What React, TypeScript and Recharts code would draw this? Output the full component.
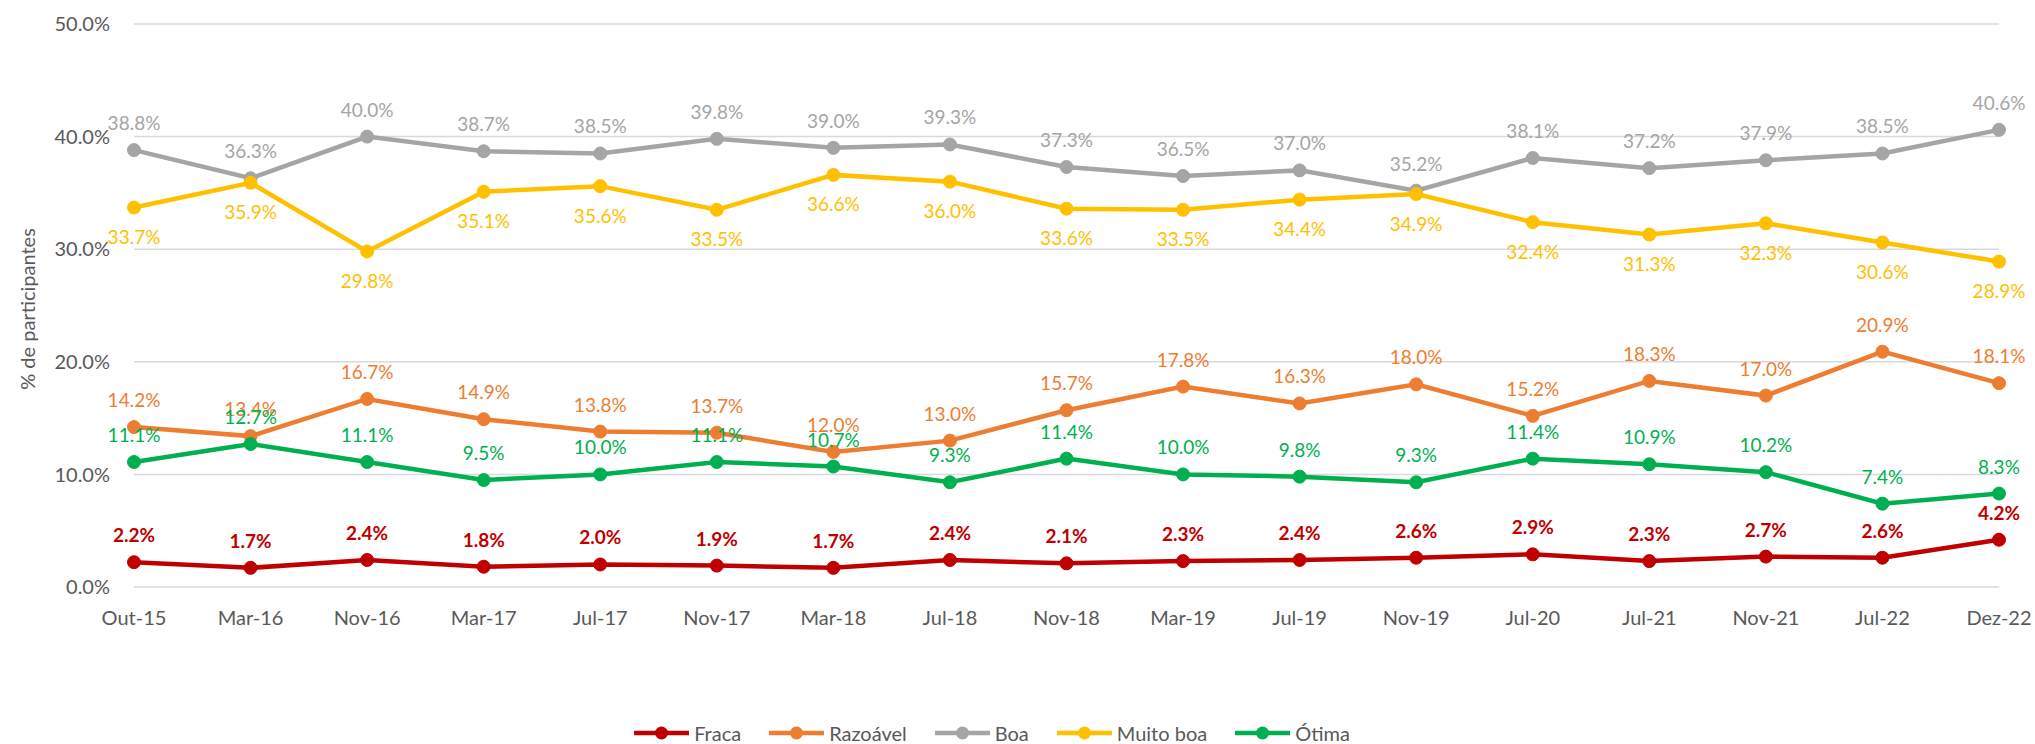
import React from 'react';
import { LineChart, Line, CartesianGrid, XAxis, YAxis, Legend, LabelList, Label } from 'recharts';

const periods = ['Out-15', 'Mar-16', 'Nov-16', 'Mar-17', 'Jul-17', 'Nov-17', 'Mar-18', 'Jul-18', 'Nov-18', 'Mar-19', 'Jul-19', 'Nov-19', 'Jul-20', 'Jul-21', 'Nov-21', 'Jul-22', 'Dez-22'];

const fraca = [2.2, 1.7, 2.4, 1.8, 2.0, 1.9, 1.7, 2.4, 2.1, 2.3, 2.4, 2.6, 2.9, 2.3, 2.7, 2.6, 4.2];
const razoavel = [14.2, 13.4, 16.7, 14.9, 13.8, 13.7, 12.0, 13.0, 15.7, 17.8, 16.3, 18.0, 15.2, 18.3, 17.0, 20.9, 18.1];
const boa = [38.8, 36.3, 40.0, 38.7, 38.5, 39.8, 39.0, 39.3, 37.3, 36.5, 37.0, 35.2, 38.1, 37.2, 37.9, 38.5, 40.6];
const muitoBoa = [33.7, 35.9, 29.8, 35.1, 35.6, 33.5, 36.6, 36.0, 33.6, 33.5, 34.4, 34.9, 32.4, 31.3, 32.3, 30.6, 28.9];
const otima = [11.1, 12.7, 11.1, 9.5, 10.0, 11.1, 10.7, 9.3, 11.4, 10.0, 9.8, 9.3, 11.4, 10.9, 10.2, 7.4, 8.3];

const yTicks = [0, 10, 20, 30, 40, 50];

const series = [
    { key: 'fraca', name: 'Fraca', color: '#C00000', values: fraca, below: false, bold: true },
    { key: 'razoavel', name: 'Razoável', color: '#ED7D31', values: razoavel, below: false, bold: false },
    { key: 'boa', name: 'Boa', color: '#A5A5A5', values: boa, below: false, bold: false },
    { key: 'muitoBoa', name: 'Muito boa', color: '#FFC000', values: muitoBoa, below: true, bold: false },
    { key: 'otima', name: 'Ótima', color: '#00B050', values: otima, below: false, bold: false },
];

const data = periods.map((name, i) => {
    const row: Record<string, any> = { name };
    series.forEach(s => { row[s.key] = s.values[i]; });
    return row;
});

const pct = (v: number) => `${Number(v).toFixed(1)}%`;

const LegendContent = () => (
    <div style={{ display: 'flex', justifyContent: 'center', gap: 28, fontSize: 20, color: '#595959' }}>
        {series.map(s => (
            <div key={s.key} style={{ display: 'flex', alignItems: 'center', gap: 5 }}>
                <svg width={55} height={16}>
                    <line x1={0} y1={8} x2={55} y2={8} stroke={s.color} strokeWidth={4.5} />
                    <circle cx={27.5} cy={8} r={6.5} fill={s.color} />
                </svg>
                <span>{s.name}</span>
            </div>
        ))}
    </div>
);

const App: React.FC = () => {
    return (
        <div style={{ position: 'absolute', left: 0, top: 0, fontFamily: 'Lato, sans-serif' }}>
            <LineChart width={2035} height={744} data={data} margin={{ top: 24, right: 36, bottom: 117, left: 0 }}>
                <CartesianGrid vertical={false} stroke="#D9D9D9" strokeWidth={1.5} />
                <XAxis
                    dataKey="name"
                    interval={0}
                    axisLine={false}
                    tickLine={false}
                    tickSize={0}
                    tickMargin={24}
                    height={40}
                    tick={{ fill: '#595959', fontSize: 20 }}
                />
                <YAxis
                    domain={[0, 50]}
                    ticks={yTicks}
                    width={134}
                    axisLine={false}
                    tickLine={false}
                    tickSize={0}
                    tickMargin={24}
                    tickFormatter={pct}
                    tick={{ fill: '#595959', fontSize: 20 }}
                >
                    <Label
                        content={() => (
                            <text x={30} y={309} transform="rotate(-90, 30, 309)" textAnchor="middle" dominantBaseline="middle" fill="#595959" fontSize={20}>
                                % de participantes
                            </text>
                        )}
                    />
                </YAxis>
                <Legend
                    verticalAlign="middle"
                    align="center"
                    content={<LegendContent />}
                    wrapperStyle={{ top: 721, left: 0, width: 1984 }}
                />
                {series.map(s => (
                    <Line
                        key={s.key}
                        dataKey={s.key}
                        name={s.name}
                        stroke={s.color}
                        strokeWidth={4.5}
                        dot={{ r: 6.5, fill: s.color, stroke: s.color, strokeWidth: 1 }}
                        activeDot={false}
                        isAnimationActive={false}
                    >
                        <LabelList
                            dataKey={s.key}
                            position={s.below ? 'bottom' : 'top'}
                            offset={s.below ? 23 : 20}
                            formatter={pct}
                            style={{ fill: s.color, fontSize: 19, fontWeight: s.bold ? 700 : 400 }}
                        />
                    </Line>
                ))}
            </LineChart>
        </div>
    );
};

export default App;
